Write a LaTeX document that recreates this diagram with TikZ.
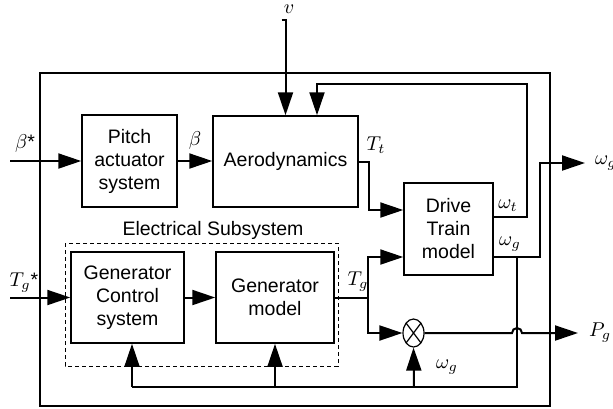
\documentclass[tikz,border=0pt]{standalone}
\usepackage{fontspec}
\setmainfont{Liberation Sans}
\usetikzlibrary{arrows.meta, calc, shapes.geometric}

\begin{document}
\begin{tikzpicture}[x=0.5pt, y=-0.5pt, >={Triangle[length=11.5pt,width=7.5pt]},
  font=\fontsize{9.75}{11.5}\selectfont,
  block/.style={draw, line width=0.75pt, align=center, inner sep=0pt},
  sig/.style={line width=1pt},
  lbl/.style={inner sep=0pt}]
\useasboundingbox (0,0) rectangle (613,408);

%========================
% frame of the turbine model
%========================
\draw[line width=0.75pt] (40,73) rectangle (550,406);

% blocks
\node[block, minimum width=47.5pt, minimum height=46pt] (pitch) at (129.5,161) {Pitch\\actuator\\system};
\node[block, minimum width=72.5pt, minimum height=45.5pt] (aero) at (285.5,161.5) {Aerodynamics};
\node[block, minimum width=44.5pt, minimum height=46pt] (drive) at (448.5,229) {Drive\\Train\\model};
\node[block, minimum width=56.5pt, minimum height=45.5pt] (genctrl) at (127.5,297.5) {Generator\\Control\\system};
\node[block, minimum width=59pt, minimum height=45.5pt] (genmodel) at (275,297.5) {Generator\\model};

% power = torque x speed
\node[draw, ellipse, line width=0.6pt, minimum width=10.5pt, minimum height=14pt, inner sep=0pt,
  path picture={\draw[line width=0.6pt]
    (path picture bounding box.south west) -- (path picture bounding box.north east)
    (path picture bounding box.north west) -- (path picture bounding box.south east);}]
  (mult) at (413.5,333) {};

% electrical subsystem
\draw[line width=0.5pt, dash pattern=on 2pt off 1.5pt] (65,243) rectangle (338,366);
\node[lbl] (elec) at (213,230) {Electrical Subsystem};

%========================
% signals
%========================
% pitch path
\draw[sig,->] (10,161) -- (pitch.west);
\node[lbl] (betaref) at (25,143) {$\beta$*};
\draw[sig,->] (pitch.east) -- (pitch.east -| aero.west);
\node[lbl] (beta) at (195,140) {$\beta$};

% wind speed
\node[lbl] (v) at (289,9) {$v$};
\coordinate (vin) at (285.5,20);
\draw[sig,->] ($(vin)+(-4,0)$) -- (vin) -- (vin |- aero.north);

% rotor speed fed back to the aerodynamics
\coordinate (wt) at (drive.east |- 0,217);
\draw[sig,->] (wt) -- (527,217) -- (527,84) -- (317,84) -- (aero.north -| 317,0);
\node[lbl] (wtlbl) at (508,206) {$\omega_t$};

% aerodynamic torque
\draw[sig,->] (aero.east) -- (369,161.5) |- (drive.west |- 0,210);
\node[lbl] (ttlbl) at (376,145) {$T_t$};

% generator speed out
\coordinate (wg) at (drive.east |- 0,257);
\draw[sig,->] (wg) -- (540,257) |- (585,163) node[right=4.5pt, lbl] (wgout) {$\omega_g$};
\node[lbl] (wglbl) at (510,244) {$\omega_g$};

% generator speed fed back to the electrical side
\draw[sig] (517,257) |- (132,387);
\draw[sig,->] (132,387) -- (genctrl.south -| 132,0);
\draw[sig,->] (275,387) -- (genmodel.south);
\draw[sig,->] (414,387) -- (mult.south);
\node[lbl] (wgmul) at (447,367) {$\omega_g$};

% generator torque
\draw[sig,->] (10,297.5) -- (genctrl.west);
\node[lbl] (tgref) at (24,283) {$T_g$*};
\draw[sig,->] (genctrl.east) -- (genmodel.west);
\draw[sig] (genmodel.east) -- (368,297.5);
\node[lbl] (tglbl) at (358,282) {$T_g$};
\draw[sig,->] (368,297.5) |- (drive.west |- 0,257);
\draw[sig,->] (368,297.5) |- (mult.west);

% electrical power, hopping over the speed line
\draw[sig,->] (mult.east) -- (512,333) arc[start angle=180, end angle=0, radius=2.5pt]
  -- (578,333) node[right=5pt, lbl] (pg) {$P_g$};
\end{tikzpicture}
\end{document}
